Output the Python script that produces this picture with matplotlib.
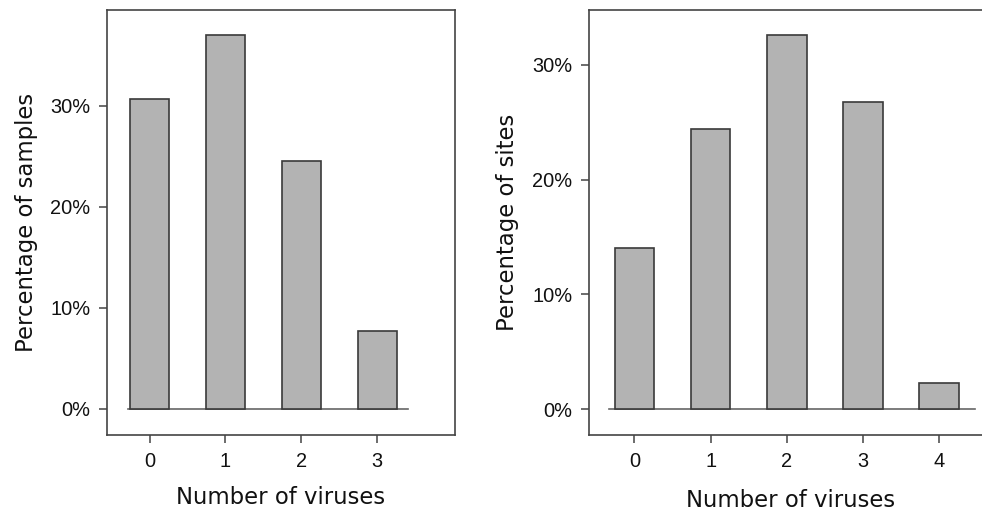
import matplotlib
matplotlib.use("Agg")
import matplotlib.pyplot as plt
from matplotlib.ticker import FuncFormatter

# left panel: share of samples by number of viruses
samples_counts = [0, 1, 2, 3]
samples_pct = [30.7, 37.0, 24.5, 7.7]

# right panel: share of sites by number of viruses
sites_counts = [0, 1, 2, 3, 4]
sites_pct = [14.0, 24.4, 32.6, 26.8, 2.3]

y_ticks = [0, 10, 20, 30]

BAR_FILL = "#b3b3b3"
EDGE = "#3a3a3a"
FRAME = "#444444"
TICK_FONT = "Liberation Sans"
LABEL_FONT = "DejaVu Sans"


def draw_panel(ax, counts, pct, ylabel, xlim, ylim, base_span, ylab_x, xlab_y):
    ax.bar(counts, pct, width=0.52, color=BAR_FILL, edgecolor=EDGE,
           linewidth=1.2, zorder=3)
    ax.plot(base_span, [0, 0], color="#666666", linewidth=1.2, zorder=2)

    ax.set_xlim(*xlim)
    ax.set_ylim(*ylim)
    ax.set_xticks(counts)
    ax.set_yticks(y_ticks)
    ax.yaxis.set_major_formatter(FuncFormatter(lambda v, p: f"{v:.0f}%"))

    for side in ["left", "right", "top", "bottom"]:
        ax.spines[side].set_color(FRAME)
        ax.spines[side].set_linewidth(1.2)

    ax.tick_params(axis="both", direction="out", length=5.5, width=1.1,
                   color=FRAME, labelsize=14.4, pad=6.5)
    for lab in ax.get_xticklabels() + ax.get_yticklabels():
        lab.set_fontfamily(TICK_FONT)
        lab.set_color("#111111")

    ax.set_xlabel("Number of viruses", fontsize=16.4, family=LABEL_FONT,
                  color="#111111")
    ax.set_ylabel(ylabel, fontsize=16.4, family=LABEL_FONT, color="#111111")
    ax.xaxis.set_label_coords(0.5, xlab_y)
    ax.yaxis.set_label_coords(ylab_x, 0.5)


fig = plt.figure(figsize=(9.82, 5.11), dpi=100)

ax1 = fig.add_axes([0.109, 0.149, 0.354, 0.832])
draw_panel(ax1, samples_counts, samples_pct, "Percentage of samples",
           (-0.56, 4.02), (-2.6, 39.5), [-0.28, 3.41], -0.20, -0.12)

ax2 = fig.add_axes([0.600, 0.148, 0.41, 0.833])
draw_panel(ax2, sites_counts, sites_pct, "Percentage of sites",
           (-0.594, 4.69), (-2.29, 34.8), [-0.33, 4.47], -0.174, -0.127)

fig.savefig("out.png", dpi=100)
plt.close(fig)
